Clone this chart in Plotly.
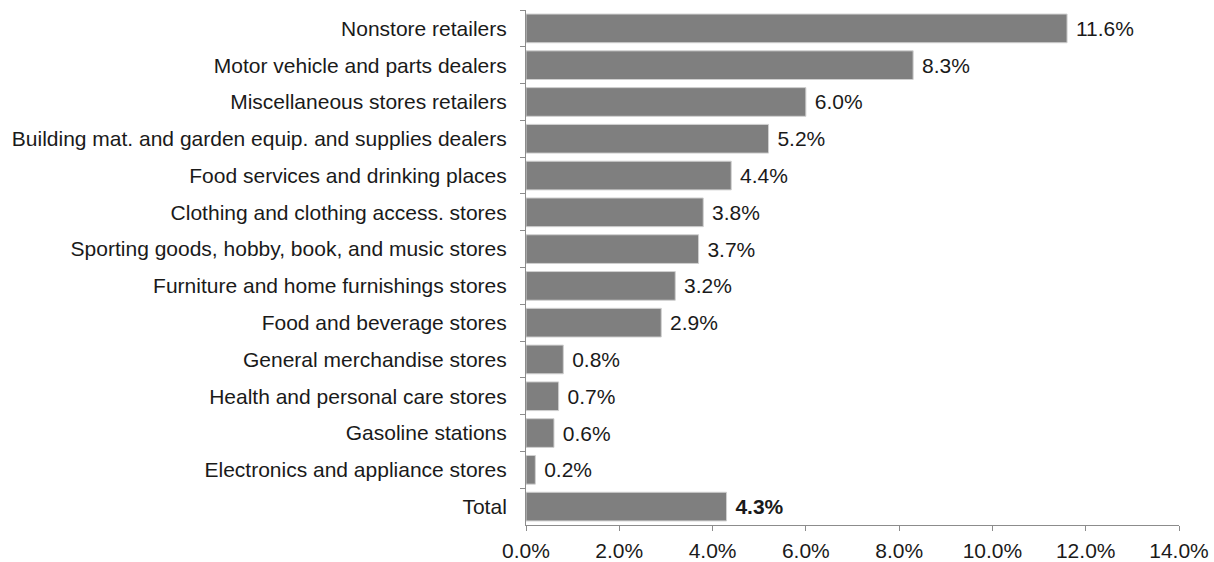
import plotly.graph_objects as go

categories = [
    "Nonstore retailers",
    "Motor vehicle and parts dealers",
    "Miscellaneous stores retailers",
    "Building mat. and garden equip. and supplies dealers",
    "Food services and drinking places",
    "Clothing and clothing access. stores",
    "Sporting goods, hobby, book, and music stores",
    "Furniture and home furnishings stores",
    "Food and beverage stores",
    "General merchandise stores",
    "Health and personal care stores",
    "Gasoline stations",
    "Electronics and appliance stores",
    "Total",
]
growth = [11.6, 8.3, 6.0, 5.2, 4.4, 3.8, 3.7, 3.2, 2.9, 0.8, 0.7, 0.6, 0.2, 4.3]
x_ticks = [0, 2, 4, 6, 8, 10, 12, 14]

FONT = "Liberation Sans, Arial, sans-serif"

labels = []
for cat, v in zip(categories, growth):
    s = f"{v:.1f}%"
    if cat == "Total":
        s = f"<b>{s}</b>"
    labels.append(" " + s)

fig = go.Figure(
    go.Bar(
        x=growth,
        y=categories,
        orientation="h",
        marker=dict(color="#7f7f7f", line=dict(color="#d0d0d0", width=1)),
        width=0.78,
        text=labels,
        textposition="outside",
        textfont=dict(family=FONT, size=21, color="#1a1a1a"),
        cliponaxis=False,
        hoverinfo="skip",
    )
)

fig.update_layout(
    width=1214,
    height=562,
    margin=dict(l=526, r=35, t=10, b=37, autoexpand=False),
    plot_bgcolor="white",
    paper_bgcolor="white",
    font=dict(family=FONT, size=21, color="#1a1a1a"),
    showlegend=False,
)

fig.update_xaxes(
    range=[0, 14],
    tickvals=x_ticks,
    ticktext=[f"{t:.1f}%" for t in x_ticks],
    showgrid=False,
    zeroline=False,
    showline=True,
    linecolor="#8c8c8c",
    linewidth=1,
    ticks="outside",
    ticklen=5,
    tickcolor="#8c8c8c",
    tickfont=dict(size=21),
    ticklabelstandoff=2,
    automargin=False,
)

fig.update_yaxes(
    autorange="reversed",
    showgrid=False,
    showline=True,
    linecolor="#8c8c8c",
    linewidth=1,
    ticks="outside",
    tickson="boundaries",
    ticklen=5,
    tickcolor="#8c8c8c",
    tickfont=dict(size=21),
    ticklabelstandoff=14,
    automargin=False,
)

fig.write_html("out.html")
